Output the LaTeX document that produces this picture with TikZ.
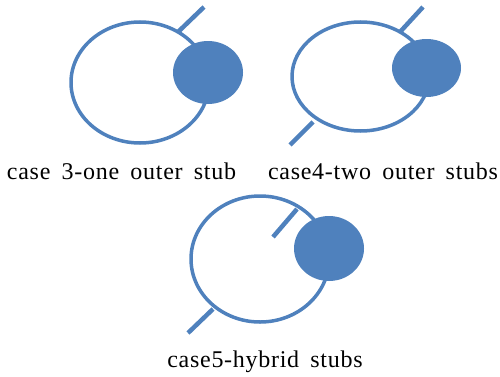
\documentclass[tikz,border=0pt]{standalone}
\usepackage{fontspec}
\newfontfamily\capfont[LetterSpace=3,WordSpace=1.67]{Liberation Serif}
\definecolor{stubblue}{HTML}{4F81BD}
\tikzset{
    ring/.style={draw=stubblue, line width=3.5bp},
    blob/.style={fill=stubblue},
    stubline/.style={draw=stubblue, line width=4.5bp},
    caption/.style={anchor=base, inner sep=0pt, font=\capfont\fontsize{24bp}{27bp}\selectfont}
}
\begin{document}
\begin{tikzpicture}[x=1bp, y=1bp]
    \useasboundingbox (0,0) rectangle (500,376);

    % case 3
    \coordinate (c3in) at (178,344);
    \coordinate (c3out) at (204,369);
    \draw[stubline] (c3in) -- (c3out);
    \draw[ring] (140,293.5) ellipse (69 and 60.5);
    \fill[blob] (208,303.5) ellipse (35 and 31.5);
    \node[caption] (cap3) at (121.5,197) {case 3-one outer stub};

    % case 4
    \coordinate (c4ain) at (400,344);
    \coordinate (c4aout) at (423,369);
    \coordinate (c4bin) at (313,254);
    \coordinate (c4bout) at (290,231);
    \draw[stubline] (c4ain) -- (c4aout);
    \draw[stubline] (c4bin) -- (c4bout);
    \draw[ring] (360.5,299.5) ellipse (68.5 and 54.5);
    \fill[blob] (426.5,308) ellipse (34.5 and 29);
    \node[caption] (cap4) at (383,197) {case4-two outer stubs};

    % case 5
    \coordinate (c5ain) at (297,167);
    \coordinate (c5aout) at (273,139);
    \coordinate (c5bin) at (213,67);
    \coordinate (c5bout) at (188,43);
    \draw[stubline] (c5ain) -- (c5aout);
    \draw[stubline] (c5bin) -- (c5bout);
    \draw[ring] (260,117) ellipse (69 and 63);
    \fill[blob] (329,127.5) ellipse (35 and 32.5);
    \node[caption] (cap5) at (265,9) {case5-hybrid stubs};
\end{tikzpicture}
\end{document}
